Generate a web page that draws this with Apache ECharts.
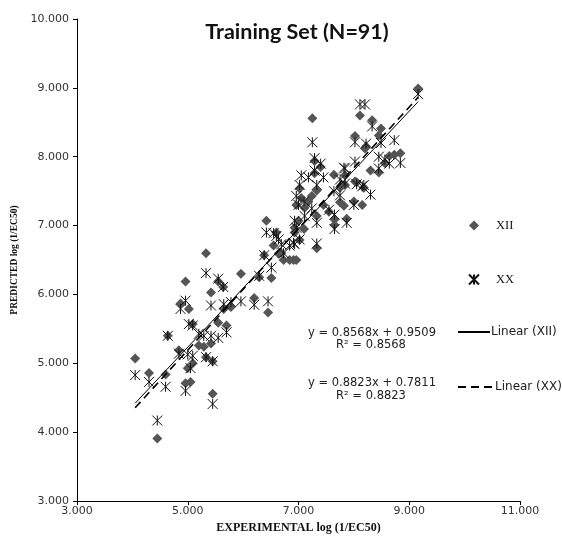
<!DOCTYPE html>
<html>
<head>
<meta charset="utf-8">
<script src="https://cdn.jsdelivr.net/npm/echarts@6/dist/echarts.min.js"></script>
<style>
html,body{margin:0;padding:0;background:#fff;}
#chart{width:562px;height:539px;}
</style>
</head>
<body>
<div id="chart"></div>
<script>
// Experimental log(1/EC50) values (shared by both models)
const experimental = [4.05,4.30,4.45,4.60,4.64,4.84,4.87,4.96,4.96,5.00,5.05,5.02,5.09,5.09,5.20,5.29,5.33,5.33,5.42,5.42,5.45,5.45,5.55,5.55,5.64,5.65,5.78,5.96,6.29,6.38,6.42,6.45,6.51,6.55,6.64,6.69,6.73,6.84,6.91,6.93,6.93,6.96,6.96,7.02,7.02,7.05,7.11,7.18,7.24,7.25,7.29,7.29,7.33,7.33,7.33,7.55,7.64,7.65,7.65,7.75,7.75,7.82,7.84,7.84,7.87,8.02,8.02,8.05,8.11,8.15,8.18,8.20,8.22,8.33,8.45,8.45,8.49,8.56,8.64,8.73,8.84,9.16,5.70,7.45,7.00,6.60,7.40,8.30,6.20,7.10,8.00];
// Predicted log(1/EC50), model XII
const predictedXII = [5.07,4.86,3.91,4.84,5.40,5.19,5.87,4.71,6.19,4.93,4.73,5.79,5.57,5.00,5.26,5.24,6.60,5.09,6.03,5.29,4.56,5.03,6.19,5.59,6.11,5.79,5.82,6.30,6.25,6.57,7.07,5.74,6.24,6.71,6.59,6.60,6.50,6.50,6.50,6.90,6.97,7.30,6.50,7.54,6.79,7.40,7.26,7.35,7.43,8.56,7.94,7.76,7.51,7.14,6.67,7.20,7.74,7.09,7.01,7.34,7.55,7.29,7.59,7.73,7.10,8.30,7.64,7.63,8.60,7.30,7.55,8.12,8.15,8.53,8.31,7.77,8.41,7.91,8.01,8.03,8.05,8.99,5.55,7.30,7.07,6.90,7.85,7.80,5.95,6.95,7.35];
// Predicted log(1/EC50), model XX
const predictedXX = [4.83,4.73,4.17,4.66,5.40,5.14,5.79,4.60,5.91,5.13,4.93,5.57,5.55,5.11,5.43,5.40,6.31,5.09,5.84,5.40,4.41,5.03,6.23,5.37,6.11,5.86,5.89,5.90,6.27,6.57,6.90,5.90,6.39,6.89,6.80,6.73,6.60,6.71,6.75,7.07,6.73,7.43,6.97,7.59,6.80,7.73,7.14,7.70,7.25,8.21,7.98,7.80,7.59,7.04,6.74,7.23,7.50,7.16,6.95,7.44,7.67,7.84,7.61,7.83,7.04,8.21,7.93,7.60,8.76,7.57,7.59,8.76,8.19,8.44,8.00,7.83,8.20,7.96,7.90,8.24,7.91,8.91,5.45,7.70,7.30,6.85,7.90,7.45,5.85,7.35,7.30];
// Trend line fits: [slope, intercept, R2]
const fitXII = [0.8568, 0.9509, 0.8568];
const fitXX = [0.8823, 0.7811, 0.8823];
const seriesNames = ['XII', 'XX'];
const trendNames = ['Linear (XII)', 'Linear (XX)'];
const titleText = 'Training Set (N=91)';
const xAxisName = 'EXPERIMENTAL log (1/EC50)';
const yAxisName = 'PREDICTED log (1/EC50)';

const xMin = Math.min(...experimental), xMax = Math.max(...experimental);
const pairs = ys => experimental.map((x, i) => [x, ys[i]]);
const trend = f => [[xMin, f[0] * xMin + f[1]], [xMax, f[0] * xMax + f[1]]];
const eqText = f => 'y = ' + f[0].toFixed(4) + 'x + ' + f[1].toFixed(4);
const r2Text = f => 'R\u00B2 = ' + f[2].toFixed(4);

const starPath = 'path://M5,0L5,10M0,0L10,10M0,10L10,0';
const tickFont = {fontFamily: 'DejaVu Sans', fontSize: 11, color: '#333'};
const eqStyle = {fontFamily: 'DejaVu Sans', fontSize: 11.5, fill: '#222', align: 'center', verticalAlign: 'middle'};

const chart = echarts.init(document.getElementById('chart'), null, {renderer: 'canvas'});
chart.setOption({
  backgroundColor: '#fff',
  animation: false,
  title: {
    text: titleText,
    left: 297,
    textAlign: 'center',
    top: 21,
    padding: 0,
    textStyle: {fontFamily: 'Lato', fontWeight: 'bold', fontSize: 21.5, color: '#111'}
  },
  grid: {left: 77, right: 42, top: 19, bottom: 22, containLabel: false},
  xAxis: {
    type: 'value', min: 3, max: 11, interval: 2,
    name: xAxisName, nameLocation: 'middle', nameGap: 17,
    nameTextStyle: {fontFamily: 'Liberation Serif', fontWeight: 'bold', fontSize: 12, color: '#111'},
    axisLine: {lineStyle: {color: '#000', width: 1}},
    axisTick: {show: true, length: 4, lineStyle: {color: '#000'}},
    axisLabel: Object.assign({margin: 5, formatter: v => v.toFixed(3)}, tickFont),
    splitLine: {show: false}
  },
  yAxis: {
    type: 'value', min: 3, max: 10, interval: 1,
    name: yAxisName, nameLocation: 'middle', nameGap: 48,
    nameTextStyle: {fontFamily: 'Liberation Serif', fontWeight: 'bold', fontSize: 9.5, color: '#111'},
    axisLine: {show: true, lineStyle: {color: '#000', width: 1}},
    axisTick: {show: true, length: 4, lineStyle: {color: '#000'}},
    axisLabel: Object.assign({margin: 8, formatter: v => v.toFixed(3)}, tickFont),
    splitLine: {show: false}
  },
  legend: [
    {
      data: seriesNames, orient: 'vertical', left: 468, top: 219, padding: 0,
      itemWidth: 10, itemHeight: 10, itemGap: 41,
      textStyle: {fontFamily: 'Liberation Serif', fontSize: 12.5, color: '#111', padding: [0, 0, 0, 12]}
    },
    {
      data: [trendNames[0]], left: 457, top: 326, padding: 0, itemWidth: 32, itemHeight: 12, itemGap: 0,
      itemStyle: {opacity: 0},
      textStyle: {fontFamily: 'DejaVu Sans', fontSize: 12, color: '#222', padding: [0, 0, 0, -4]}
    },
    {
      data: [trendNames[1]], left: 457, top: 381, padding: 0, itemWidth: 36, itemHeight: 12, itemGap: 0,
      itemStyle: {opacity: 0},
      textStyle: {fontFamily: 'DejaVu Sans', fontSize: 12, color: '#222', padding: [0, 0, 0, -4]}
    }
  ],
  graphic: [
    {type: 'text', x: 372, y: 333, style: Object.assign({text: eqText(fitXII)}, eqStyle)},
    {type: 'text', x: 371, y: 345, style: Object.assign({text: r2Text(fitXII)}, eqStyle)},
    {type: 'text', x: 372, y: 383, style: Object.assign({text: eqText(fitXX)}, eqStyle)},
    {type: 'text', x: 371, y: 396, style: Object.assign({text: r2Text(fitXX)}, eqStyle)}
  ],
  series: [
    {
      name: seriesNames[0], type: 'scatter', data: pairs(predictedXII),
      symbol: 'diamond', symbolSize: [10, 10],
      itemStyle: {color: '#555', opacity: 1}
    },
    {
      name: seriesNames[1], type: 'scatter', data: pairs(predictedXX),
      symbol: starPath, symbolSize: [10, 10], symbolKeepAspect: true,
      itemStyle: {color: 'rgba(0,0,0,0)', borderColor: '#111', borderWidth: 1, opacity: 1}
    },
    {
      name: trendNames[0], type: 'line', data: trend(fitXII),
      symbol: 'none', lineStyle: {color: '#000', width: 1, type: 'solid'},
      itemStyle: {color: '#000'}, z: 5
    },
    {
      name: trendNames[1], type: 'line', data: trend(fitXX),
      symbol: 'none', lineStyle: {color: '#000', width: 1.6, type: [8, 5]},
      itemStyle: {color: '#000'}, z: 5
    }
  ]
});
</script>
</body>
</html>
